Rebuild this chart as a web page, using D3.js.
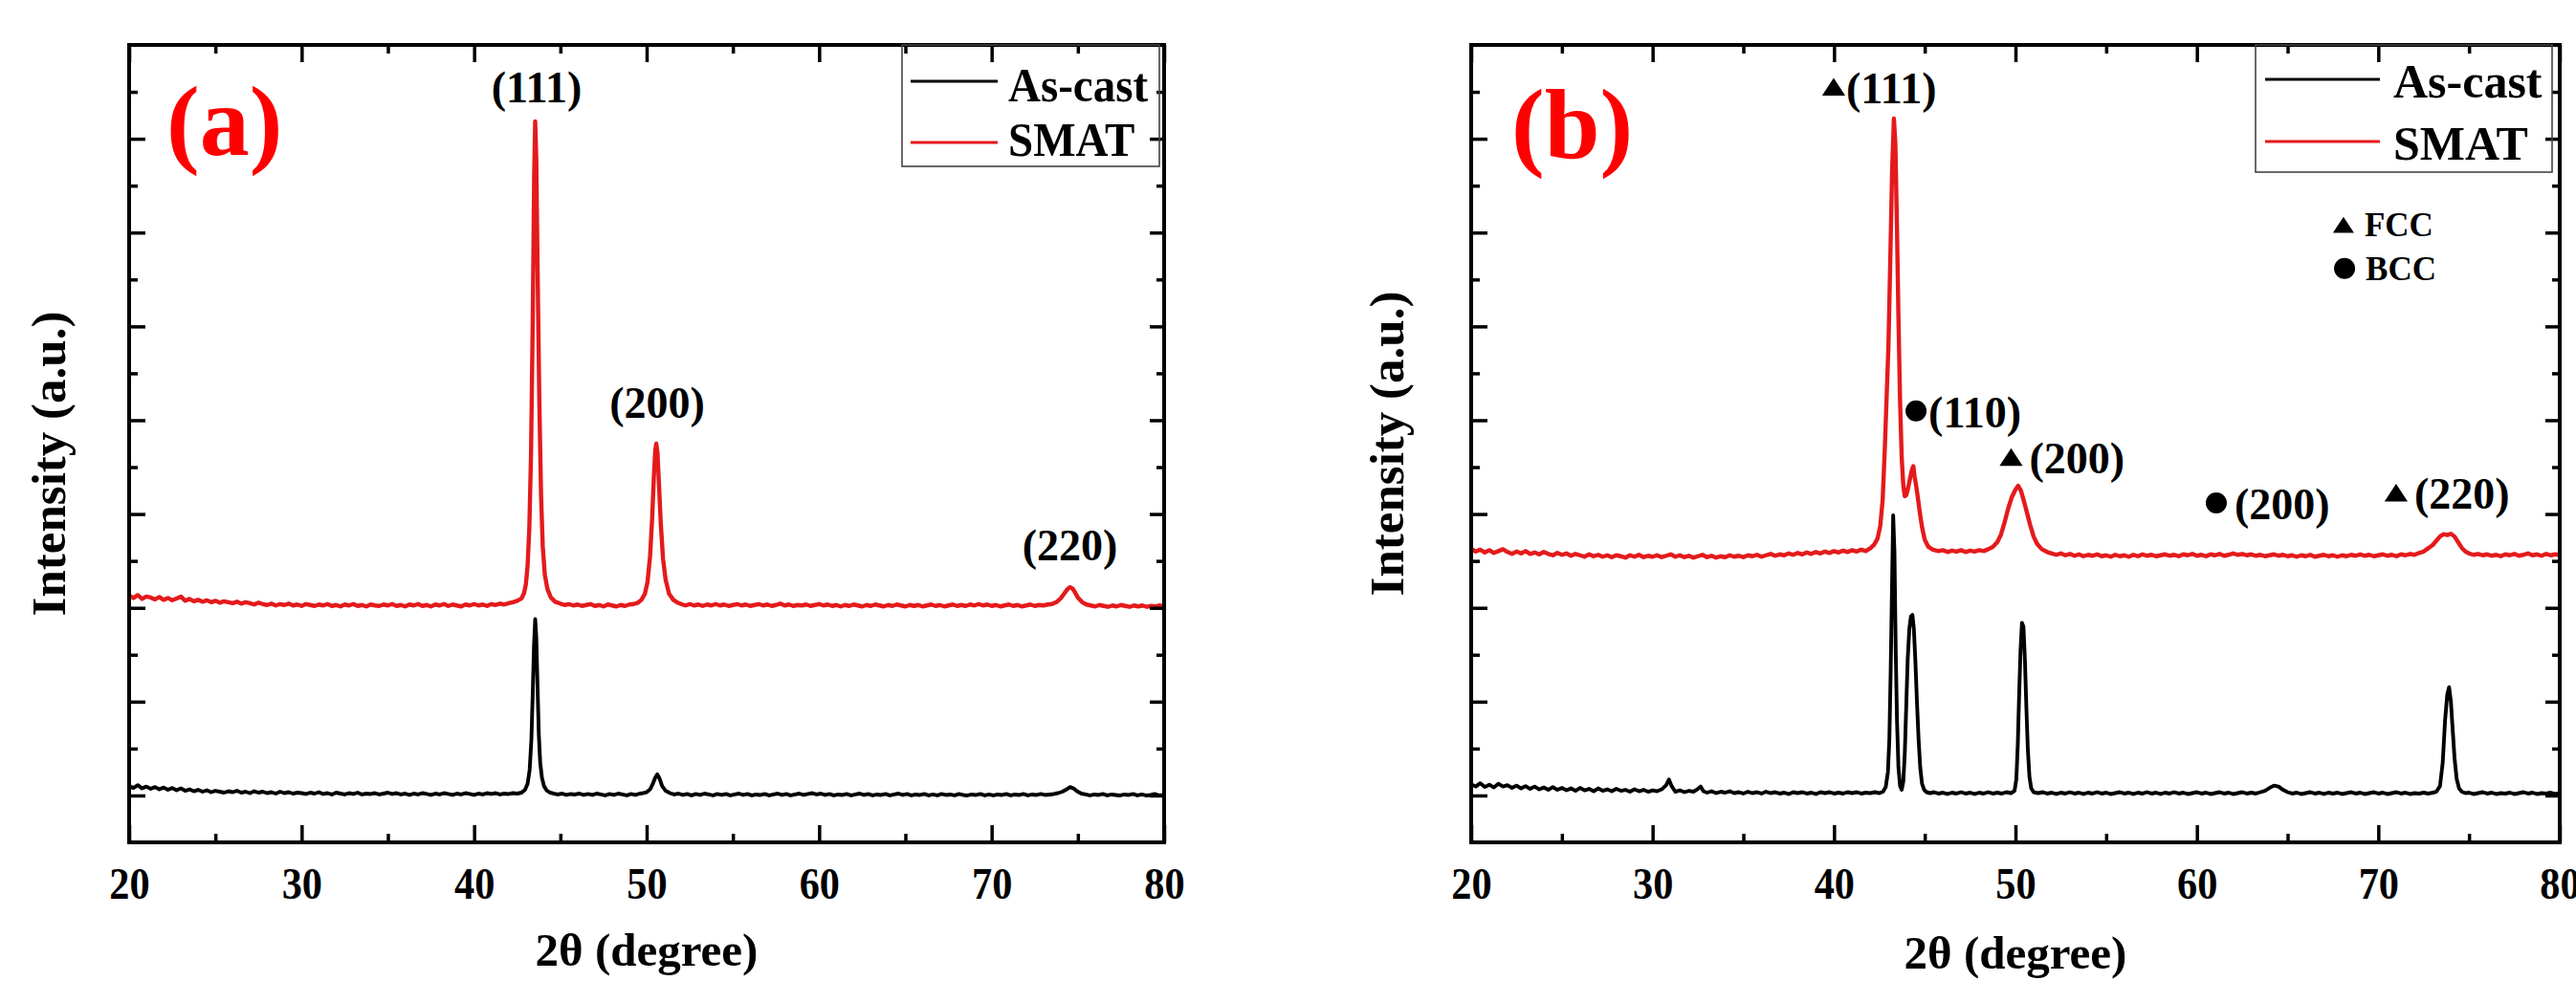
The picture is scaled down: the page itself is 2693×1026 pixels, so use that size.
<!DOCTYPE html>
<html><head><meta charset="utf-8">
<script src="https://cdn.jsdelivr.net/npm/d3@7"></script>
<style>
html,body{margin:0;padding:0;background:#fff;}
svg{display:block;}
text{font-family:"Liberation Serif","Times New Roman",serif;font-weight:bold;fill:#000;}
</style>
</head><body>
<svg id="chart" width="2693" height="1026"></svg>
<script>
// ---------------- DATA ----------------
const xTickLabels = [20,30,40,50,60,70,80];
const xMinorTicks = [25,35,45,55,65,75];
const yMajorTicks = [1,3,5,7,9,11,13,15];
const yMinorTicks = [2,4,6,8,10,12,14,16];
const seriesNames = ["As-cast","SMAT"];

// Panel (a): [2theta, intensity (a.u., offset)]
const asCastA = [[20,1.2],[20.25,1.16],[20.5,1.22],[20.75,1.15],[21,1.19],[21.25,1.14],[21.5,1.18],[21.75,1.13],[22,1.17],[22.25,1.12],[22.5,1.16],[22.75,1.11],[23,1.15],[23.25,1.1],[23.5,1.13],[23.75,1.09],[24,1.12],[24.25,1.08],[24.5,1.11],[24.75,1.07],[25,1.1],[25.25,1.08],[25.5,1.06],[25.75,1.09],[26,1.07],[26.25,1.1],[26.5,1.06],[26.75,1.08],[27,1.05],[27.25,1.09],[27.5,1.06],[27.75,1.08],[28,1.05],[28.25,1.07],[28.5,1.04],[28.75,1.08],[29,1.05],[29.25,1.07],[29.5,1.04],[29.75,1.06],
[30,1.05],[30.25,1.03],[30.5,1.06],[30.75,1.04],[31,1.07],[31.25,1.03],[31.5,1.05],[31.75,1.02],[32,1.06],[32.25,1.04],[32.5,1.02],[32.75,1.05],[33,1.03],[33.25,1.06],[33.5,1.02],[33.75,1.04],[34,1.03],[34.25,1.05],[34.5,1.02],[34.75,1.04],[35,1.06],[35.25,1.03],[35.5,1.05],[35.75,1.02],[36,1.04],[36.25,1.01],[36.5,1.04],[36.75,1.02],[37,1.05],[37.25,1.03],[37.5,1.01],[37.75,1.04],[38,1.02],[38.25,1.05],[38.5,1.03],[38.75,1.01],[39,1.04],[39.25,1.02],[39.5,1.05],[39.75,1.03],[40,1.01],[40.25,1.04],[40.5,1.02],[40.75,1.05],[41,1.03],[41.25,1.05],[41.5,1.02],[41.75,1.04],[42,1.03],[42.25,1.05],[42.5,1.04],[42.75,1.06],
[42.95,1.12],[43.1,1.25],[43.22,1.55],[43.32,2.2],[43.4,3.2],[43.47,4.2],[43.54,4.76],[43.6,4.4],[43.67,3.4],[43.75,2.3],[43.83,1.7],[43.93,1.38],[44.05,1.2],[44.2,1.11],[44.4,1.06],[44.6,1.04],[44.85,1.02],[45.1,1.04],[45.35,1.01],[45.6,1.03],[45.85,1.02],[46.1,1.04],[46.35,1.01],[46.6,1.03],[46.85,1.01],[47.1,1.04],[47.35,1.02],[47.6,1.0],[47.85,1.03],[48.1,1.01],[48.35,1.04],[48.6,1.02],[48.85,1.0],[49.1,1.03],[49.35,1.01],[49.6,1.04],[49.8,1.05],[50,1.07],[50.2,1.13],[50.35,1.24],[50.5,1.38],[50.62,1.45],[50.75,1.36],[50.9,1.2],[51.1,1.1],[51.35,1.05],[51.6,1.02],[51.85,1.04],[52.1,1.01],[52.35,1.03],[52.6,1.0],[52.85,1.03],[53.1,1.01],[53.35,1.04],[53.6,1.02],[53.85,1.0],[54.1,1.03],[54.35,1.01],[54.6,1.03],[54.85,1.0],[55.1,1.02],[55.35,1.04],[55.6,1.01],[55.85,1.03],[56.1,1.0],[56.35,1.02],[56.6,1.01],[56.85,1.03],[57.1,1.0],[57.35,1.02],[57.6,1.04],[57.85,1.01],[58.1,1.03],[58.35,1.0],[58.6,1.02],[58.85,1.04],[59.1,1.01],[59.35,1.03],[59.6,1.05],[59.85,1.02],
[60.1,1.04],[60.35,1.01],[60.6,1.03],[60.85,1.0],[61.1,1.02],[61.35,1.01],[61.6,1.03],[61.85,1.0],[62.1,1.02],[62.35,1.04],[62.6,1.01],[62.85,1.03],[63.1,1.0],[63.35,1.02],[63.6,1.01],[63.85,1.03],[64.1,1.0],[64.35,1.02],[64.6,1.04],[64.85,1.01],[65.1,1.03],[65.35,1.0],[65.6,1.02],[65.85,1.01],[66.1,1.03],[66.35,1.0],[66.6,1.02],[66.85,1.0],[67.1,1.03],[67.35,1.01],[67.6,1.02],[67.85,1.0],[68.1,1.03],[68.35,1.01],[68.6,1.0],[68.85,1.02],[69.1,1.01],[69.35,1.03],[69.6,1.0],[69.85,1.02],[70.1,1.0],[70.35,1.02],[70.6,1.01],[70.85,1.03],[71.1,1.0],[71.35,1.02],[71.6,1.01],[71.85,1.03],[72.1,1.0],[72.35,1.02],[72.6,1.01],[72.85,1.03],[73.1,1.01],[73.35,1.02],[73.6,1.03],[73.85,1.05],[74.1,1.08],[74.35,1.13],[74.55,1.18],[74.75,1.15],[74.95,1.09],[75.2,1.04],[75.45,1.02],[75.7,1.0],[75.95,1.02],[76.2,1.01],[76.45,1.03],[76.7,1.0],[76.95,1.02],[77.2,1.01],[77.45,1.0],[77.7,1.02],[77.95,1.01],[78.2,1.03],[78.45,1.0],[78.7,1.02],[78.95,1.0],[79.2,1.01],[79.45,1.03],[79.7,1.0],[80,1.01]];

const smatA = [[20,5.26],[20.25,5.21],[20.5,5.27],[20.75,5.19],[21,5.24],[21.25,5.22],[21.5,5.18],[21.75,5.23],[22,5.17],[22.25,5.21],[22.5,5.16],[22.75,5.2],[23,5.24],[23.25,5.15],[23.5,5.19],[23.75,5.14],[24,5.17],[24.25,5.13],[24.5,5.16],[24.75,5.12],[25,5.15],[25.25,5.11],[25.5,5.14],[25.75,5.12],[26,5.1],[26.25,5.13],[26.5,5.09],[26.75,5.12],[27,5.1],[27.25,5.07],[27.5,5.11],[27.75,5.08],[28,5.06],[28.25,5.09],[28.5,5.05],[28.75,5.08],[29,5.06],[29.25,5.09],[29.5,5.05],[29.75,5.07],
[30,5.04],[30.25,5.08],[30.5,5.06],[30.75,5.04],[31,5.07],[31.25,5.05],[31.5,5.08],[31.75,5.04],[32,5.06],[32.25,5.03],[32.5,5.07],[32.75,5.05],[33,5.08],[33.25,5.04],[33.5,5.06],[33.75,5.03],[34,5.07],[34.25,5.05],[34.5,5.04],[34.75,5.07],[35,5.05],[35.25,5.08],[35.5,5.04],[35.75,5.06],[36,5.03],[36.25,5.07],[36.5,5.05],[36.75,5.08],[37,5.04],[37.25,5.06],[37.5,5.03],[37.75,5.07],[38,5.05],[38.25,5.08],[38.5,5.04],[38.75,5.07],[39,5.05],[39.25,5.03],[39.5,5.07],[39.75,5.05],[40,5.08],[40.25,5.05],[40.5,5.07],[40.75,5.04],[41,5.08],[41.25,5.06],[41.5,5.09],[41.75,5.07],[42,5.1],[42.25,5.12],[42.5,5.15],[42.75,5.2],
[42.9,5.32],[43,5.5],[43.1,5.9],[43.2,6.7],[43.3,8.3],[43.4,11.2],[43.48,14.2],[43.54,15.37],[43.6,14.6],[43.68,12.2],[43.78,9.4],[43.88,7.4],[43.98,6.3],[44.1,5.7],[44.25,5.4],[44.45,5.22],[44.7,5.13],[45,5.09],[45.25,5.06],[45.5,5.08],[45.75,5.05],[46,5.07],[46.25,5.04],[46.5,5.06],[46.75,5.08],[47,5.04],[47.25,5.06],[47.5,5.03],[47.75,5.07],[48,5.05],[48.25,5.03],[48.5,5.06],[48.75,5.04],[49,5.07],[49.25,5.08],[49.5,5.11],[49.7,5.17],[49.9,5.3],[50.05,5.55],[50.2,6.1],[50.32,6.9],[50.42,7.8],[50.5,8.35],[50.56,8.5],[50.63,8.3],[50.72,7.6],[50.82,6.8],[50.95,6.05],[51.1,5.6],[51.3,5.3],[51.55,5.17],[51.8,5.11],[52,5.08],
[52.25,5.05],[52.5,5.08],[52.75,5.05],[53,5.07],[53.25,5.04],[53.5,5.07],[53.75,5.05],[54,5.08],[54.25,5.05],[54.5,5.07],[54.75,5.04],[55,5.06],[55.25,5.08],[55.5,5.05],[55.75,5.07],[56,5.04],[56.25,5.06],[56.5,5.08],[56.75,5.05],[57,5.07],[57.25,5.04],[57.5,5.06],[57.75,5.09],[58,5.05],[58.25,5.07],[58.5,5.04],[58.75,5.06],[59,5.05],[59.25,5.07],[59.5,5.04],[59.75,5.06],[60,5.08],[60.25,5.05],[60.5,5.07],[60.75,5.04],[61,5.06],[61.25,5.03],[61.5,5.06],[61.75,5.04],[62,5.07],[62.25,5.05],[62.5,5.03],[62.75,5.06],[63,5.04],[63.25,5.07],[63.5,5.05],[63.75,5.03],[64,5.06],[64.25,5.04],[64.5,5.07],[64.75,5.05],[65,5.03],[65.25,5.06],[65.5,5.04],[65.75,5.06],[66,5.03],[66.25,5.05],[66.5,5.07],[66.75,5.04],[67,5.06],[67.25,5.03],[67.5,5.05],[67.75,5.07],[68,5.04],[68.25,5.06],[68.5,5.04],[68.75,5.07],[69,5.05],[69.25,5.08],[69.5,5.05],[69.75,5.07],[70,5.04],[70.25,5.06],[70.5,5.03],[70.75,5.05],[71,5.07],[71.25,5.04],[71.5,5.06],[71.75,5.03],[72,5.05],[72.25,5.07],[72.5,5.04],[72.75,5.06],[73,5.05],[73.25,5.07],[73.5,5.08],[73.75,5.12],[74,5.2],[74.2,5.3],[74.4,5.4],[74.55,5.44],[74.7,5.41],[74.85,5.32],[75,5.22],[75.25,5.12],[75.5,5.07],[75.75,5.05],[76,5.03],[76.25,5.06],[76.5,5.04],[76.75,5.02],[77,5.05],[77.25,5.03],[77.5,5.06],[77.75,5.04],[78,5.02],[78.25,5.05],[78.5,5.03],[78.75,5.05],[79,5.02],[79.25,5.04],[79.5,5.03],[79.75,5.05],[80,5.03]];

// Panel (b)
const asCastB = [[20,1.24],[20.25,1.19],[20.5,1.26],[20.75,1.18],[21,1.23],[21.25,1.17],[21.5,1.25],[21.75,1.19],[22,1.22],[22.25,1.16],[22.5,1.21],[22.75,1.15],[23,1.2],[23.25,1.14],[23.5,1.19],[23.75,1.13],[24,1.17],[24.25,1.12],[24.5,1.18],[24.75,1.12],[25,1.16],[25.25,1.11],[25.5,1.15],[25.75,1.1],[26,1.16],[26.25,1.11],[26.5,1.14],[26.75,1.09],[27,1.15],[27.25,1.1],[27.5,1.13],[27.75,1.09],[28,1.14],[28.25,1.1],[28.5,1.12],[28.75,1.08],[29,1.13],[29.25,1.09],[29.5,1.12],[29.75,1.08],[30,1.11],[30.25,1.09],[30.5,1.13],[30.75,1.22],[30.9,1.34],[31.05,1.2],[31.25,1.08],[31.5,1.11],[31.75,1.07],[32,1.1],[32.25,1.08],[32.5,1.14],[32.65,1.19],[32.8,1.09],[33,1.06],[33.25,1.09],[33.5,1.05],[33.75,1.08],[34,1.06],[34.25,1.09],[34.5,1.05],[34.75,1.07],[35,1.04],[35.25,1.08],[35.5,1.05],[35.75,1.07],[36,1.04],[36.25,1.08],[36.5,1.05],[36.75,1.07],[37,1.04],[37.25,1.06],[37.5,1.03],[37.75,1.07],[38,1.05],[38.25,1.07],[38.5,1.04],[38.75,1.06],[39,1.03],[39.25,1.07],[39.5,1.05],[39.75,1.07],[40,1.04],[40.25,1.06],[40.5,1.04],[40.75,1.07],[41,1.05],[41.25,1.07],[41.5,1.04],[41.75,1.06],[42,1.05],[42.25,1.07],[42.5,1.05],[42.7,1.08],
[42.85,1.18],[42.97,1.5],[43.05,2.2],[43.12,3.6],[43.19,5.3],[43.26,6.97],[43.33,6.2],[43.4,4.1],[43.47,2.6],[43.55,1.6],[43.64,1.2],[43.73,1.12],[43.82,1.3],[43.9,1.9],[43.98,2.9],[44.06,3.9],[44.15,4.55],[44.24,4.82],[44.32,4.85],[44.4,4.55],[44.48,3.9],[44.57,3.0],[44.66,2.2],[44.75,1.6],[44.85,1.25],[44.97,1.12],[45.1,1.07],[45.3,1.05],[45.5,1.07],[45.75,1.04],[46,1.06],[46.25,1.03],[46.5,1.06],[46.75,1.04],[47,1.07],[47.25,1.04],[47.5,1.06],[47.75,1.03],[48,1.06],[48.25,1.04],[48.5,1.07],[48.75,1.04],[49,1.06],[49.25,1.04],[49.5,1.07],[49.75,1.05],[49.95,1.1],[50.05,1.35],[50.13,2.1],[50.2,3.1],[50.28,4.1],[50.36,4.68],[50.44,4.6],[50.52,3.9],[50.6,2.9],[50.68,2.0],[50.77,1.4],[50.87,1.15],[51,1.07],[51.25,1.05],[51.5,1.07],[51.75,1.04],[52,1.06],[52.25,1.03],[52.5,1.06],[52.75,1.04],[53,1.07],[53.25,1.04],[53.5,1.06],[53.75,1.03],[54,1.06],[54.25,1.04],[54.5,1.07],[54.75,1.04],[55,1.06],[55.25,1.03],[55.5,1.05],[55.75,1.07],[56,1.04],[56.25,1.06],[56.5,1.03],[56.75,1.06],[57,1.04],[57.25,1.07],[57.5,1.04],[57.75,1.06],[58,1.03],[58.25,1.06],[58.5,1.04],[58.75,1.07],[59,1.04],[59.25,1.06],[59.5,1.03],[59.75,1.05],
[60,1.07],[60.25,1.04],[60.5,1.06],[60.75,1.03],[61,1.05],[61.25,1.07],[61.5,1.04],[61.75,1.06],[62,1.03],[62.25,1.05],[62.5,1.07],[62.75,1.04],[63,1.06],[63.25,1.04],[63.5,1.07],[63.75,1.1],[64,1.16],[64.25,1.21],[64.5,1.19],[64.75,1.12],[65,1.07],[65.25,1.04],[65.5,1.06],[65.75,1.03],[66,1.05],[66.25,1.07],[66.5,1.04],[66.75,1.06],[67,1.03],[67.25,1.06],[67.5,1.04],[67.75,1.06],[68,1.03],[68.25,1.05],[68.5,1.07],[68.75,1.04],[69,1.06],[69.25,1.03],[69.5,1.05],[69.75,1.07],[70,1.04],[70.25,1.06],[70.5,1.03],[70.75,1.05],[71,1.07],[71.25,1.04],[71.5,1.06],[71.75,1.03],[72,1.05],[72.25,1.04],[72.5,1.06],[72.75,1.04],[73,1.06],[73.2,1.08],[73.4,1.2],[73.55,1.7],[73.68,2.6],[73.8,3.15],[73.9,3.31],[74,3.0],[74.1,2.4],[74.2,1.8],[74.32,1.35],[74.45,1.15],[74.6,1.08],[74.8,1.05],[75,1.06],[75.25,1.03],[75.5,1.05],[75.75,1.07],[76,1.04],[76.25,1.06],[76.5,1.03],[76.75,1.05],[77,1.04],[77.25,1.06],[77.5,1.03],[77.75,1.05],[78,1.07],[78.25,1.04],[78.5,1.06],[78.75,1.03],[79,1.05],[79.25,1.04],[79.5,1.06],[79.75,1.03],[80,1.05]];

const smatB = [[20,6.26],[20.25,6.2],[20.5,6.24],[20.75,6.18],[21,6.23],[21.25,6.17],[21.5,6.21],[21.75,6.25],[22,6.19],[22.25,6.15],[22.5,6.2],[22.75,6.16],[23,6.21],[23.25,6.15],[23.5,6.18],[23.75,6.14],[24,6.19],[24.25,6.15],[24.5,6.12],[24.75,6.17],[25,6.13],[25.25,6.16],[25.5,6.11],[25.75,6.15],[26,6.12],[26.25,6.09],[26.5,6.14],[26.75,6.1],[27,6.13],[27.25,6.09],[27.5,6.12],[27.75,6.08],[28,6.12],[28.25,6.1],[28.5,6.07],[28.75,6.12],[29,6.09],[29.25,6.13],[29.5,6.08],[29.75,6.11],[30,6.09],[30.25,6.12],[30.5,6.08],[30.75,6.11],[31,6.14],[31.25,6.09],[31.5,6.12],[31.75,6.08],[32,6.11],[32.25,6.07],[32.5,6.1],[32.75,6.13],[33,6.08],[33.25,6.11],[33.5,6.07],[33.75,6.1],[34,6.08],[34.25,6.12],[34.5,6.09],[34.75,6.11],[35,6.08],[35.25,6.12],[35.5,6.1],[35.75,6.13],[36,6.09],[36.25,6.12],[36.5,6.15],[36.75,6.11],[37,6.14],[37.25,6.12],[37.5,6.16],[37.75,6.13],[38,6.17],[38.25,6.14],[38.5,6.18],[38.75,6.15],[39,6.19],[39.25,6.16],[39.5,6.2],[39.75,6.17],[40,6.21],[40.25,6.18],[40.5,6.22],[40.75,6.19],[41,6.23],[41.25,6.2],[41.5,6.24],[41.75,6.21],[42,6.27],
[42.2,6.34],[42.4,6.48],[42.55,6.75],[42.68,7.3],[42.8,8.4],[42.9,9.5],[43,10.6],[43.1,12.4],[43.2,14.3],[43.3,15.43],[43.38,14.9],[43.46,13.3],[43.55,11.2],[43.64,9.4],[43.73,8.2],[43.82,7.6],[43.9,7.38],[43.98,7.4],[44.08,7.55],[44.2,7.78],[44.3,7.95],[44.37,8.02],[44.44,7.8],[44.52,7.62],[44.62,7.35],[44.74,7.0],[44.86,6.7],[45,6.45],[45.2,6.3],[45.45,6.24],[45.75,6.21],[46,6.23],[46.25,6.19],[46.5,6.22],[46.75,6.2],[47,6.23],[47.25,6.19],[47.5,6.22],[47.75,6.2],[48,6.23],[48.25,6.21],[48.5,6.25],[48.75,6.3],[49,6.4],[49.2,6.56],[49.4,6.82],[49.6,7.12],[49.8,7.36],[50,7.52],[50.15,7.6],[50.3,7.5],[50.45,7.3],[50.6,7.08],[50.8,6.78],[51,6.52],[51.2,6.36],[51.45,6.25],[51.75,6.19],[52,6.16],
[52.25,6.13],[52.5,6.16],[52.75,6.12],[53,6.15],[53.25,6.11],[53.5,6.14],[53.75,6.1],[54,6.13],[54.25,6.11],[54.5,6.14],[54.75,6.1],[55,6.12],[55.25,6.09],[55.5,6.13],[55.75,6.1],[56,6.12],[56.25,6.09],[56.5,6.13],[56.75,6.1],[57,6.14],[57.25,6.11],[57.5,6.13],[57.75,6.1],[58,6.12],[58.25,6.14],[58.5,6.11],[58.75,6.13],[59,6.1],[59.25,6.14],[59.5,6.12],[59.75,6.15],[60,6.11],[60.25,6.13],[60.5,6.1],[60.75,6.14],[61,6.12],[61.25,6.15],[61.5,6.11],[61.75,6.13],[62,6.16],[62.25,6.13],[62.5,6.15],[62.75,6.12],[63,6.14],[63.25,6.11],[63.5,6.13],[63.75,6.1],[64,6.12],[64.25,6.14],[64.5,6.11],[64.75,6.13],[65,6.1],[65.25,6.12],[65.5,6.09],[65.75,6.12],[66,6.1],[66.25,6.13],[66.5,6.09],[66.75,6.11],[67,6.13],[67.25,6.1],[67.5,6.12],[67.75,6.09],[68,6.12],[68.25,6.1],[68.5,6.13],[68.75,6.11],[69,6.14],[69.25,6.11],[69.5,6.13],[69.75,6.1],[70,6.12],[70.25,6.14],[70.5,6.11],[70.75,6.13],[71,6.1],[71.25,6.14],[71.5,6.12],[71.75,6.15],[72,6.13],[72.25,6.17],[72.5,6.2],[72.75,6.27],[73,6.34],[73.2,6.43],[73.4,6.52],[73.6,6.57],[73.8,6.55],[74,6.58],[74.2,6.52],[74.4,6.4],[74.6,6.28],[74.8,6.2],[75,6.16],[75.25,6.13],[75.5,6.15],[75.75,6.12],[76,6.14],[76.25,6.11],[76.5,6.13],[76.75,6.1],[77,6.14],[77.25,6.12],[77.5,6.15],[77.75,6.11],[78,6.13],[78.25,6.16],[78.5,6.12],[78.75,6.14],[79,6.11],[79.25,6.15],[79.5,6.12],[79.75,6.14],[80,6.13]];

// Peak annotations: label, 2theta of marker / label, text baseline level, marker type
const peakLabelsA = [
  {label:"(111)", angle:43.62, level:15.78, marker:null},
  {label:"(200)", angle:50.61, level:9.05, marker:null},
  {label:"(220)", angle:74.54, level:6.01, marker:null}
];
const peakLabelsB = [
  {label:"(111)", angle:39.98, level:15.76, marker:"triangle"},
  {label:"(110)", angle:44.52, level:8.85, marker:"circle"},
  {label:"(200)", angle:49.76, level:7.87, marker:"triangle"},
  {label:"(200)", angle:61.07, level:6.89, marker:"circle"},
  {label:"(220)", angle:70.98, level:7.11, marker:"triangle"}
];
const phaseKey = [
  {label:"FCC", angle:68.08, level:12.92, marker:"triangle"},
  {label:"BCC", angle:68.14, level:11.99, marker:"circle"}
];

// ---------------- DRAW ----------------
const svg = d3.select("#chart");
const RED = "#e41a1c";
const TOP = 47, BOTTOM = 881;

const panels = [
  {tag:"(a)", left:135, right:1217, asCast:asCastA, smat:smatA, peaks:peakLabelsA, key:null,
   legend:{x0:943,x1:1212,y1:174,lx0:952,lx1:1043,ly:[85,149],tx:1054,ty:[106,163],fs:47,sy:1.1},
   tagPos:[174,162], yLab:[68,485], xLabY:1010},
  {tag:"(b)", left:1538, right:2676, asCast:asCastB, smat:smatB, peaks:peakLabelsB, key:phaseKey,
   legend:{x0:2358,x1:2668,y1:180,lx0:2368,lx1:2488,ly:[83,148],tx:2502,ty:[102,167],fs:50,sy:1.0},
   tagPos:[1580,165], yLab:[1467,464], xLabY:1013}
];

const y = d3.scaleLinear().domain([0,17]).range([BOTTOM, TOP]);

panels.forEach((p,i) => {
  const x = d3.scaleLinear().domain([20,80]).range([p.left, p.right]);
  const g = svg.append("g");

  const clipId = "clip"+i;
  g.append("clipPath").attr("id",clipId).append("rect")
    .attr("x",p.left).attr("y",TOP).attr("width",p.right-p.left).attr("height",BOTTOM-TOP);

  // data lines
  const line = d3.line().x(d=>x(d[0])).y(d=>y(d[1]));
  const lg = g.append("g").attr("clip-path",`url(#${clipId})`);
  lg.append("path").datum(p.asCast).attr("d",line)
    .attr("fill","none").attr("stroke","#000").attr("stroke-width",3.9).attr("stroke-linejoin","round");
  lg.append("path").datum(p.smat).attr("d",line)
    .attr("fill","none").attr("stroke",RED).attr("stroke-width",4.4).attr("stroke-linejoin","round");

  // axes (ticks inward)
  const styleAxis = sel => { sel.select(".domain").remove(); sel.selectAll("line").attr("stroke","#000").attr("stroke-width",3.5); };
  const bot = g.append("g").attr("transform",`translate(0,${BOTTOM})`)
    .call(d3.axisBottom(x).tickValues(xTickLabels).tickSizeInner(-18).tickSizeOuter(0).tickPadding(26).tickFormat(d3.format("d")))
    .call(styleAxis);
  bot.selectAll("text").attr("font-size",47).attr("fill","#000")
    .attr("font-family","'Liberation Serif','Times New Roman',serif").attr("font-weight","bold")
    .attr("transform","scale(0.9,1)");
  g.append("g").attr("transform",`translate(0,${BOTTOM})`)
    .call(d3.axisBottom(x).tickValues(xMinorTicks).tickSizeInner(-9).tickSizeOuter(0).tickFormat(""))
    .call(styleAxis);
  g.append("g").attr("transform",`translate(0,${TOP})`)
    .call(d3.axisTop(x).tickValues(xTickLabels).tickSizeInner(-18).tickSizeOuter(0).tickFormat(""))
    .call(styleAxis);
  g.append("g").attr("transform",`translate(0,${TOP})`)
    .call(d3.axisTop(x).tickValues(xMinorTicks).tickSizeInner(-9).tickSizeOuter(0).tickFormat(""))
    .call(styleAxis);
  g.append("g").attr("transform",`translate(${p.left},0)`)
    .call(d3.axisLeft(y).tickValues(yMajorTicks).tickSizeInner(-17).tickSizeOuter(0).tickFormat(""))
    .call(styleAxis);
  g.append("g").attr("transform",`translate(${p.left},0)`)
    .call(d3.axisLeft(y).tickValues(yMinorTicks).tickSizeInner(-9).tickSizeOuter(0).tickFormat(""))
    .call(styleAxis);
  g.append("g").attr("transform",`translate(${p.right},0)`)
    .call(d3.axisRight(y).tickValues(yMajorTicks).tickSizeInner(-15).tickSizeOuter(0).tickFormat(""))
    .call(styleAxis);
  g.append("g").attr("transform",`translate(${p.right},0)`)
    .call(d3.axisRight(y).tickValues(yMinorTicks).tickSizeInner(-8).tickSizeOuter(0).tickFormat(""))
    .call(styleAxis);

  // frame
  g.append("rect").attr("x",p.left).attr("y",TOP).attr("width",p.right-p.left).attr("height",BOTTOM-TOP)
    .attr("fill","none").attr("stroke","#000").attr("stroke-width",4);

  // legend
  const L = p.legend;
  g.append("rect").attr("x",L.x0).attr("y",TOP).attr("width",L.x1-L.x0).attr("height",L.y1-TOP)
    .attr("fill","none").attr("stroke","#444").attr("stroke-width",1.6);
  seriesNames.forEach((nm,k) => {
    g.append("line").attr("x1",L.lx0).attr("x2",L.lx1).attr("y1",L.ly[k]).attr("y2",L.ly[k])
      .attr("stroke",k===0?"#000":RED).attr("stroke-width",3);
    g.append("text").attr("transform",`translate(${L.tx},${L.ty[k]}) scale(1,${L.sy})`)
      .attr("font-size",L.fs).text(nm);
  });

  // panel tag
  g.append("text").attr("x",p.tagPos[0]).attr("y",p.tagPos[1]).attr("font-size",104)
    .style("fill","#ff0000").text(p.tag);

  // axis titles
  g.append("text").attr("x",(p.left+p.right)/2).attr("y",p.xLabY).attr("text-anchor","middle")
    .attr("font-size",49).text("2θ (degree)");
  g.append("text").attr("transform",`translate(${p.yLab[0]},${p.yLab[1]}) rotate(-90)`)
    .attr("text-anchor","middle").attr("font-size",51).text("Intensity (a.u.)");

  // markers
  const drawMarker = (type, cx, cy, s) => {
    if (type==="triangle") {
      g.append("path").attr("d",`M${cx-s*0.55},${cy+s*0.42}L${cx+s*0.55},${cy+s*0.42}L${cx},${cy-s*0.42}Z`).attr("fill","#000");
    } else if (type==="circle") {
      g.append("circle").attr("cx",cx).attr("cy",cy).attr("r",s*0.55).attr("fill","#000");
    }
  };

  p.peaks.forEach(a => {
    if (a.marker) {
      const cx = x(a.angle), base = y(a.level);
      drawMarker(a.marker, cx, base - 17, a.marker==="circle"?20:22);
      g.append("text").attr("x",cx + (a.label==="(111)"||a.label==="(110)"?13:19)).attr("y",base)
        .attr("font-size",46).text(a.label);
    } else {
      g.append("text").attr("x",x(a.angle)).attr("y",y(a.level)).attr("text-anchor","middle")
        .attr("font-size",46).text(a.label);
    }
  });
  if (p.key) {
    p.key.forEach(a => {
      const cx = x(a.angle), base = y(a.level);
      drawMarker(a.marker, cx, base - 12, 20);
      g.append("text").attr("x",cx+22).attr("y",base).attr("font-size",35).text(a.label);
    });
  }
});
</script>
</body></html>
